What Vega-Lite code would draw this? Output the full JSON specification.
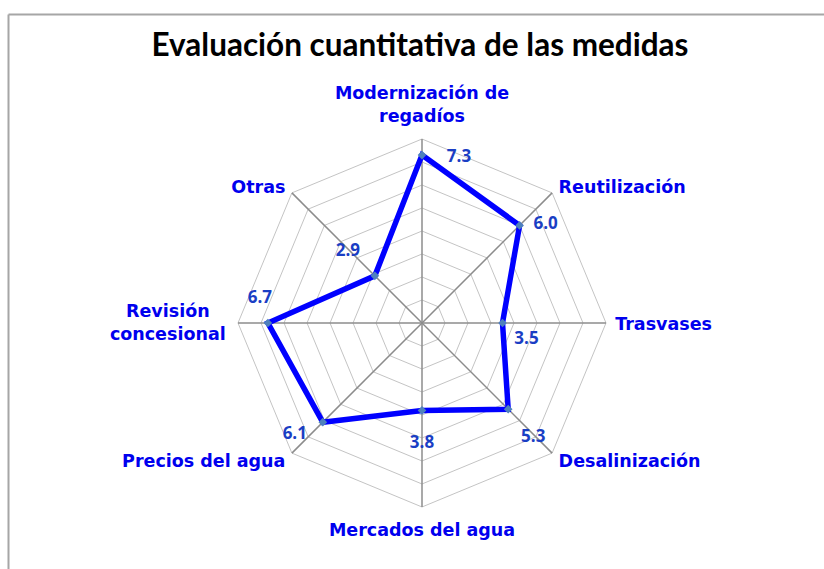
{
  "$schema": "https://vega.github.io/schema/vega-lite/v6.json",
  "width": 816,
  "height": 555,
  "autosize": {"type": "none"},
  "padding": {"left": 8, "top": 14, "right": 0, "bottom": 0},
  "background": "white",
  "config": {"view": {"stroke": null}},
  "title": {"text": "Evaluación cuantitativa de las medidas", "anchor": "middle", "orient": "top", "offset": -43, "dy": 30, "baseline": "alphabetic", "font": "Lato", "fontSize": 31.5, "fontWeight": "bold", "color": "black", "dx": 4},
  "datasets": {
    "cats": [
      {"cat": "Modernización de\nregadíos", "idx": 0, "value": 7.3},
      {"cat": "Reutilización", "idx": 1, "value": 6.0},
      {"cat": "Trasvases", "idx": 2, "value": 3.5},
      {"cat": "Desalinización", "idx": 3, "value": 5.3},
      {"cat": "Mercados del agua", "idx": 4, "value": 3.8},
      {"cat": "Precios del agua", "idx": 5, "value": 6.1},
      {"cat": "Revisión\nconcesional", "idx": 6, "value": 6.7},
      {"cat": "Otras", "idx": 7, "value": 2.9}
    ],
    "rings": [
      {"level": 1, "idx": [0, 1, 2, 3, 4, 5, 6, 7]},
      {"level": 2, "idx": [0, 1, 2, 3, 4, 5, 6, 7]},
      {"level": 3, "idx": [0, 1, 2, 3, 4, 5, 6, 7]},
      {"level": 4, "idx": [0, 1, 2, 3, 4, 5, 6, 7]},
      {"level": 5, "idx": [0, 1, 2, 3, 4, 5, 6, 7]},
      {"level": 6, "idx": [0, 1, 2, 3, 4, 5, 6, 7]},
      {"level": 7, "idx": [0, 1, 2, 3, 4, 5, 6, 7]},
      {"level": 8, "idx": [0, 1, 2, 3, 4, 5, 6, 7]}
    ]
  },
  "encoding": {
    "x": {"field": "x", "type": "quantitative", "scale": {"domain": [-18.0, 17.478], "nice": false, "zero": false},
      "axis": {"orient": "top", "domain": true, "domainColor": "#A6A6A6", "domainWidth": 2, "ticks": false, "labels": false, "grid": false, "title": null}},
    "y": {"field": "y", "type": "quantitative", "scale": {"domain": [-10.696, 13.435], "nice": false, "zero": false},
      "axis": {"orient": "left", "domain": true, "domainColor": "#A6A6A6", "domainWidth": 2, "ticks": false, "labels": false, "grid": false, "title": null}}
  },
  "layer": [
    {
      "data": {"name": "rings"},
      "transform": [
        {"flatten": ["idx"]},
        {"calculate": "datum.level * sin(datum.idx * PI / 4)", "as": "x"},
        {"calculate": "datum.level * cos(datum.idx * PI / 4)", "as": "y"}
      ],
      "mark": {"type": "line", "interpolate": "linear-closed", "color": "#C4C4C4", "strokeWidth": 1},
      "encoding": {"detail": {"field": "level"}, "order": {"field": "idx"}}
    },
    {
      "data": {"name": "cats"},
      "transform": [
        {"calculate": "0", "as": "x"},
        {"calculate": "0", "as": "y"},
        {"calculate": "8 * sin(datum.idx * PI / 4)", "as": "x2"},
        {"calculate": "8 * cos(datum.idx * PI / 4)", "as": "y2"}
      ],
      "mark": {"type": "rule", "color": "#8C8C8C", "strokeWidth": 1.5},
      "encoding": {"x2": {"field": "x2"}, "y2": {"field": "y2"}}
    },
    {
      "data": {"name": "cats"},
      "transform": [
        {"calculate": "datum.value * sin(datum.idx * PI / 4)", "as": "x"},
        {"calculate": "datum.value * cos(datum.idx * PI / 4)", "as": "y"}
      ],
      "layer": [
        {
          "mark": {"type": "line", "interpolate": "linear-closed", "color": "#0000FF", "strokeWidth": 5.5},
          "encoding": {"order": {"field": "idx"}}
        },
        {
          "mark": {"type": "point", "shape": "diamond", "filled": true, "size": 75, "color": "#4F81BD", "opacity": 1}
        },
        {"transform": [{"filter": "datum.idx == 0"}], "mark": {"type": "text", "font": "Open Sans", "fontWeight": "bold", "fontSize": 17, "color": "#1A3EC4", "align": "center", "baseline": "middle", "dx": 37, "dy": 2}, "encoding": {"text": {"field": "value", "type": "quantitative", "format": ".1f"}}},
        {"transform": [{"filter": "datum.idx == 1"}], "mark": {"type": "text", "font": "Open Sans", "fontWeight": "bold", "fontSize": 17, "color": "#1A3EC4", "align": "center", "baseline": "middle", "dx": 26, "dy": -1}, "encoding": {"text": {"field": "value", "type": "quantitative", "format": ".1f"}}},
        {"transform": [{"filter": "datum.idx == 2"}], "mark": {"type": "text", "font": "Open Sans", "fontWeight": "bold", "fontSize": 17, "color": "#1A3EC4", "align": "center", "baseline": "middle", "dx": 24, "dy": 16}, "encoding": {"text": {"field": "value", "type": "quantitative", "format": ".1f"}}},
        {"transform": [{"filter": "datum.idx == 3"}], "mark": {"type": "text", "font": "Open Sans", "fontWeight": "bold", "fontSize": 17, "color": "#1A3EC4", "align": "center", "baseline": "middle", "dx": 25, "dy": 28}, "encoding": {"text": {"field": "value", "type": "quantitative", "format": ".1f"}}},
        {"transform": [{"filter": "datum.idx == 4"}], "mark": {"type": "text", "font": "Open Sans", "fontWeight": "bold", "fontSize": 17, "color": "#1A3EC4", "align": "center", "baseline": "middle", "dx": 0, "dy": 33}, "encoding": {"text": {"field": "value", "type": "quantitative", "format": ".1f"}}},
        {"transform": [{"filter": "datum.idx == 5"}], "mark": {"type": "text", "font": "Open Sans", "fontWeight": "bold", "fontSize": 17, "color": "#1A3EC4", "align": "center", "baseline": "middle", "dx": -28, "dy": 12}, "encoding": {"text": {"field": "value", "type": "quantitative", "format": ".1f"}}},
        {"transform": [{"filter": "datum.idx == 6"}], "mark": {"type": "text", "font": "Open Sans", "fontWeight": "bold", "fontSize": 17, "color": "#1A3EC4", "align": "center", "baseline": "middle", "dx": -8, "dy": -25}, "encoding": {"text": {"field": "value", "type": "quantitative", "format": ".1f"}}},
        {"transform": [{"filter": "datum.idx == 7"}], "mark": {"type": "text", "font": "Open Sans", "fontWeight": "bold", "fontSize": 17, "color": "#1A3EC4", "align": "center", "baseline": "middle", "dx": -27, "dy": -25}, "encoding": {"text": {"field": "value", "type": "quantitative", "format": ".1f"}}}
      ]
    },
    {
      "data": {"name": "cats"},
      "transform": [
        {"calculate": "8.4 * sin(datum.idx * PI / 4)", "as": "x"},
        {"calculate": "8.4 * cos(datum.idx * PI / 4)", "as": "y"}
      ],
      "layer": [
        {"transform": [{"filter": "datum.idx == 0"}], "mark": {"type": "text", "font": "DejaVu Sans", "fontWeight": "bold", "fontSize": 17.5, "color": "#0000EE", "align": "center", "baseline": "bottom", "dy": -27, "lineBreak": "\n", "lineHeight": 23}, "encoding": {"text": {"field": "cat"}}},
        {"transform": [{"filter": "datum.idx >= 1 && datum.idx <= 3"}], "mark": {"type": "text", "font": "DejaVu Sans", "fontWeight": "bold", "fontSize": 17.5, "color": "#0000EE", "align": "left", "baseline": "middle", "dy": 2, "lineBreak": "\n", "lineHeight": 23}, "encoding": {"text": {"field": "cat"}}},
        {"transform": [{"filter": "datum.idx == 4"}], "mark": {"type": "text", "font": "DejaVu Sans", "fontWeight": "bold", "fontSize": 17.5, "color": "#0000EE", "align": "center", "baseline": "top", "dy": 6, "lineBreak": "\n", "lineHeight": 23}, "encoding": {"text": {"field": "cat"}}},
        {"transform": [{"filter": "datum.idx == 5 || datum.idx == 7"}], "mark": {"type": "text", "font": "DejaVu Sans", "fontWeight": "bold", "fontSize": 17.5, "color": "#0000EE", "align": "right", "baseline": "middle", "dy": 2, "lineBreak": "\n", "lineHeight": 23}, "encoding": {"text": {"field": "cat"}}},
        {"transform": [{"filter": "datum.idx == 6"}], "mark": {"type": "text", "font": "DejaVu Sans", "fontWeight": "bold", "fontSize": 17.5, "color": "#0000EE", "align": "center", "baseline": "middle", "dx": -61, "dy": -11, "lineBreak": "\n", "lineHeight": 23}, "encoding": {"text": {"field": "cat"}}}
      ]
    }
  ]
}
